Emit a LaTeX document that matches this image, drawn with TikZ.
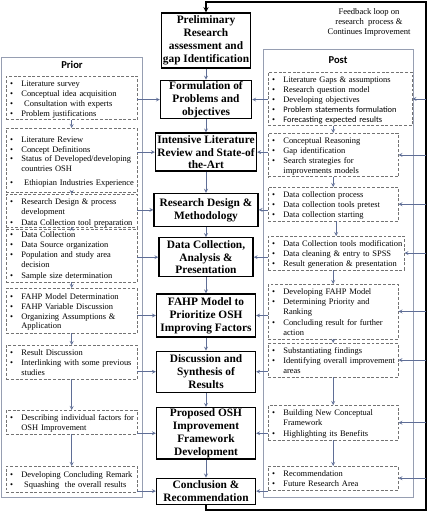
\documentclass[tikz,border=0pt]{standalone}
\usepackage{fontspec}
\setmainfont{Liberation Serif}
\newfontfamily\headfont{Carlito}
\usetikzlibrary{positioning}

\definecolor{linkblue}{RGB}{95,110,150}
\definecolor{framegray}{RGB}{150,158,178}
\definecolor{dashgray}{RGB}{115,115,115}

% bullet item with hanging indent
\newcommand{\bul}[1]{\par\noindent\hbox to 0.42cm{\hspace{0.08cm}\textbullet\hfil}%
  \parbox[t]{\dimexpr\hsize-0.42cm\relax}{\raggedright\strut#1\strut}\par}

\begin{document}
\begin{tikzpicture}
    \tikzset{
        stage/.style={rectangle, draw=black, line width=1.1pt,
        align=center, inner sep=1pt, minimum width=2.97cm,
        font=\fontsize{9.7}{11}\selectfont\bfseries},
        items/.style={rectangle, draw=dashgray, dash pattern=on 2.5pt off 1.5pt,
        anchor=north west, align=left, inner xsep=1pt, inner ysep=0.5pt,
        font=\fontsize{7.2}{8.4}\selectfont},
        panel/.style={draw=framegray, line width=0.6pt},
        head/.style={font=\headfont\bfseries\fontsize{9}{10}\selectfont},
        arrow/.style={draw=linkblue, line width=0.5pt, ->, >=stealth},
        feedback/.style={draw=black, line width=1pt, ->, >=stealth}
    }
    \useasboundingbox (0,0) rectangle (12.96,-15.36);

    % prior / post frames
    \draw [panel] (0.03,-1.71) rectangle (4.26,-14.91);
    \draw [panel] (7.89,-1.47) rectangle (12.39,-14.91);
    \node (priorhead) [head] at (2.16,-1.95) {Prior};
    \node (posthead) [head] at (10.14,-1.8) {Post};

    % main stages
    \node (prelim) [stage, minimum width=2.67cm, minimum height=1.65cm] at (6.18,-1.215)
        {Preliminary\\ Research\\ assessment and\\ gap Identification};
    \node (formul) [stage, minimum width=2.73cm, minimum height=1.14cm, below=0.33cm of prelim]
        {Formulation of\\ Problems and\\ objectives};
    \node (litrev) [stage, minimum width=3.03cm, minimum height=1.14cm, below=0.39cm of formul]
        {Intensive Literature\\ Review and State-of\\ the-Art};
    \node (design) [stage, minimum width=3.12cm, minimum height=0.99cm, below=0.63cm of litrev]
        {Research Design \&\\ Methodology};
    \node (datacol) [stage, minimum width=2.82cm, minimum height=1.17cm, below=0.3cm of design]
        {Data Collection,\\ Analysis \&\\ Presentation};
    \node (fahp) [stage, minimum height=1.29cm, below=0.48cm of datacol]
        {FAHP Model to\\ Prioritize OSH\\ Improving Factors};
    \node (discuss) [stage, minimum height=1.23cm, below=0.39cm of fahp]
        {Discussion and\\ Synthesis of\\ Results};
    \node (propose) [stage, minimum height=1.5cm, below=0.42cm of discuss]
        {Proposed OSH\\ Improvement\\ Framework\\ Development};
    \node (conclude) [stage, minimum height=0.78cm, below=0.54cm of propose]
        {Conclusion \&\\ Recommendation};

    % prior activities
    \node (pre1) [items, text width=3.86cm, minimum height=1.14cm] at (0.18,-2.28)
        {\bul{Literature survey}\bul{Conceptual idea acquisition}
         \bul{\ Consultation with experts}\bul{Problem justifications}};
    \node (pre2) [items, text width=3.86cm, minimum height=1.92cm] at (0.18,-3.84)
        {\bul{Literature Review}\bul{Concept Definitions}
         \bul{Status of Developed/developing\newline countries OSH}\vspace{2pt}
         \bul{\ Ethiopian Industries Experience}};
    \node (pre3) [items, text width=3.86cm, minimum height=0.9cm] at (0.18,-5.82)
        {\bul{Research Design \& process\newline development}
         \bul{Data Collection tool preparation}};
    \node (pre4) [items, text width=3.86cm, minimum height=1.53cm] at (0.18,-6.81)
        {\bul{Data Collection}\bul{Data Source organization}
         \bul{Population and study area\newline decision}\bul{Sample size determination}};
    \node (pre5) [items, text width=3.86cm, minimum height=1.35cm] at (0.18,-8.64)
        {\bul{FAHP Model Determination}\bul{FAHP Variable Discussion}
         \bul{Organizing Assumptions \&\newline Application}};
    \node (pre6) [items, text width=3.86cm, minimum height=0.9cm] at (0.18,-10.35)
        {\bul{Result Discussion}
         \bul{Interlinking with some previous\newline studies}};
    \node (pre7) [items, text width=3.86cm, minimum height=0.69cm] at (0.18,-12.3)
        {\bul{Describing individual factors for\newline OSH Improvement}};
    \node (pre8) [items, text width=3.86cm, minimum height=0.78cm] at (0.18,-13.98)
        {\bul{Developing Concluding Remark}
         \bul{\ Squashing\ \ the overall results}};

    % post activities
    \node (post1) [items, text width=4.25cm, minimum height=1.56cm] at (8.04,-2.16)
        {\bul{Literature Gaps \& assumptions}\bul{Research question model}
         \bul{Developing objectives}
         \bul{\headfont Problem statements formulation}
         \bul{\headfont Forecasting expected results}};
    \node (post2) [items, text width=3.83cm, minimum height=1.17cm] at (8.04,-3.99)
        {\bul{Conceptual Reasoning}\bul{Gap identification}
         \bul{Search strategies for\newline improvements models}};
    \node (post3) [items, text width=3.83cm, minimum height=1.02cm] at (8.04,-5.61)
        {\bul{Data collection process}\bul{Data collection tools pretest}
         \bul{Data collection starting}};
    \node (post4) [items, text width=4.01cm, minimum height=0.9cm] at (8.04,-7.08)
        {\bul{Data Collection tools modification}
         \bul{Data cleaning \& entry to SPSS}
         \bul{Result generation \& presentation}};
    \node (post5) [items, text width=3.83cm, minimum height=1.47cm] at (8.04,-8.52)
        {\bul{Developing FAHP Model}
         \bul{Determining Priority and\newline Ranking}
         \bul{Concluding result for further\newline action}};
    \node (post6) [items, text width=3.83cm, minimum height=0.96cm] at (8.04,-10.29)
        {\bul{Substantiating findings}
         \bul{Identifying overall improvement\newline areas}};
    \node (post7) [items, text width=3.83cm, minimum height=1.02cm] at (8.04,-12.15)
        {\bul{Building New Conceptual\newline Framework}
         \bul{Highlighting its Benefits}};
    \node (post8) [items, text width=3.83cm, minimum height=0.66cm] at (8.04,-13.98)
        {\bul{Recommendation}\bul{Future Research Area}};

    \node (fbtext) [font=\fontsize{7.3}{8.5}\selectfont, align=center] at (11.07,-0.66)
        {Feedback loop on\\ research\ \ process \&\\ Continues Improvement};

    % feedback loop corners
    \coordinate (fbu) at (12.78,-0.06);
    \coordinate (fbl) at (12.78,-15.3);

    % main flow
    \draw [arrow] (prelim) -- (formul);
    \draw [arrow] (formul) -- (litrev);
    \draw [arrow] (litrev) -- (design);
    \draw [arrow] (design) -- (datacol);
    \draw [arrow] (datacol) -- (fahp);
    \draw [arrow] (fahp) -- (discuss);
    \draw [arrow] (discuss) -- (propose);
    \draw [arrow] (propose) -- (conclude);
    \draw [feedback] (conclude.south) |- (fbl) -- (fbu) -| (prelim.north);

    % prior side
    \draw [arrow] (pre1) -- (pre2);
    \draw [arrow] (pre2) -- (pre3);
    \draw [arrow] (pre3) -- (pre4);
    \draw [arrow] (pre4) -- (pre5);
    \draw [arrow] (pre5) -- (pre6);
    \draw [arrow] (pre6) -- (pre7);
    \draw [arrow] (pre7) -- (pre8);
    \draw [arrow] (pre1.east |- formul) -- (formul.west);
    \draw [arrow] (pre2.east |- litrev) -- (litrev.west);
    \draw [arrow] (pre3.east |- design) -- (design.west);
    \draw [arrow] (pre4.east |- datacol) -- (datacol.west);
    \draw [arrow] (pre5.east |- fahp) -- (fahp.west);
    \draw [arrow] (pre6.east |- discuss) -- (discuss.west);
    \draw [arrow] (pre7.east |- propose) -- (propose.west);
    \draw [arrow] (pre8.east |- conclude) -- (conclude.west);

    % post side
    \draw [arrow] (post1.south -| post2.north) -- (post2.north);
    \draw [arrow] (post2) -- (post3);
    \draw [arrow] (post3.south -| post4.north) -- (post4.north);
    \draw [arrow] (post4.south -| post5.north) -- (post5.north);
    \draw [arrow] (post5) -- (post6);
    \draw [arrow] (post6) -- (post7);
    \draw [arrow] (post7) -- (post8);
    \draw [arrow] (post1.west |- formul) -- (formul.east);
    \draw [arrow] (post2.west |- litrev) -- (litrev.east);
    \draw [arrow] (post3.west |- design) -- (design.east);
    \draw [arrow] (post4.west |- datacol) -- (datacol.east);
    \draw [arrow] (post5.west |- fahp) -- (fahp.east);
    \draw [arrow] (post6.west |- discuss) -- (discuss.east);
    \draw [arrow] (post7.west |- propose) -- (propose.east);
    \draw [arrow] (post8.west |- conclude) -- (conclude.east);
    \draw [arrow] (post1 -| fbu) -- (post1.east);
    \draw [arrow] (post2 -| fbu) -- (post2.east);
    \draw [arrow] (post3 -| fbu) -- (post3.east);
    \draw [arrow] (post4 -| fbu) -- (post4.east);
    \draw [arrow] (post5 -| fbu) -- (post5.east);
    \draw [arrow] (post6 -| fbu) -- (post6.east);
    \draw [arrow] (post7 -| fbu) -- (post7.east);
    \draw [arrow] (post8 -| fbu) -- (post8.east);
\end{tikzpicture}
\end{document}
